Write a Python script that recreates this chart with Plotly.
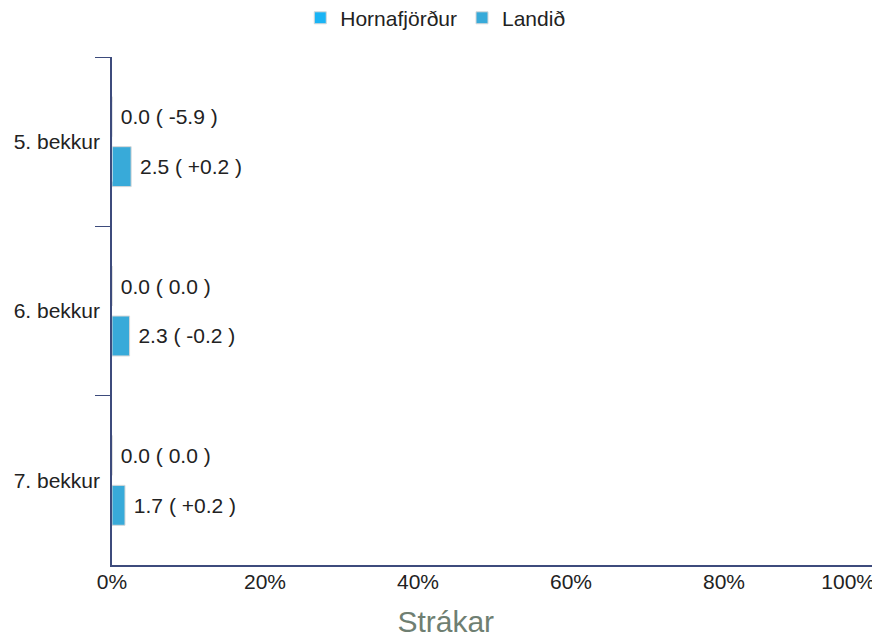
import plotly.graph_objects as go

bekkir = ["5. bekkur", "6. bekkur", "7. bekkur"]
hornafjordur = [0.0, 0.0, 0.0]
hornafjordur_breyting = [-5.9, 0.0, 0.0]
landid = [2.5, 2.3, 1.7]
landid_breyting = [0.2, -0.2, 0.2]
x_ticks = [0, 20, 40, 60, 80, 100]


def merki(gildi, breyting):
    texti = []
    for g, b in zip(gildi, breyting):
        if b > 0:
            bs = f"+{b:.1f}"
        else:
            bs = f"{b:.1f}"
        texti.append(f"\u00a0{g:.1f} ( {bs} )")
    return texti


fig = go.Figure()
fig.add_trace(go.Bar(
    y=bekkir, x=hornafjordur, orientation="h", name="Hornafjörður",
    marker=dict(color="#1ab4f5", line=dict(color="#d8d8d8", width=1)),
    text=merki(hornafjordur, hornafjordur_breyting), textposition="outside",
    textfont=dict(size=21, color="#222222"), cliponaxis=False,
))
fig.add_trace(go.Bar(
    y=bekkir, x=landid, orientation="h", name="Landið",
    marker=dict(color="#38aad9", line=dict(color="#d8d8d8", width=1)),
    text=merki(landid, landid_breyting), textposition="outside",
    textfont=dict(size=21, color="#222222"), cliponaxis=False,
))
# ósýnilegur ferill svo 100% merkið geti legið á xaxis2
fig.add_trace(go.Bar(y=[bekkir[0]], x=[0], orientation="h", xaxis="x2",
                     showlegend=False, hoverinfo="skip", marker_color="rgba(0,0,0,0)"))

axis_color = "#3d4b7c"
fig.update_layout(
    # síðan hefur 8px spássíu, því er myndin minnkuð um 8px
    width=872, height=634,
    barmode="group", bargap=0.41, bargroupgap=0.2,
    plot_bgcolor="white", paper_bgcolor="white",
    font=dict(family="Liberation Sans, Arial, sans-serif", size=21, color="#222222"),
    margin=dict(l=104, r=3, t=49, b=77),
    title=dict(text="Strákar", font=dict(size=30, color="#6f7f72"),
               x=0.502, xref="container", xanchor="center",
               y=0.032, yref="container", yanchor="middle"),
    legend=dict(orientation="h", x=0.49, xanchor="center", xref="container",
                y=0.984, yanchor="middle", yref="container",
                font=dict(size=21), traceorder="normal", itemwidth=30),
    xaxis=dict(
        range=[0, 100], tickvals=x_ticks[:-1], ticktext=[f"{t}%" for t in x_ticks[:-1]],
        showgrid=False, zeroline=False, showline=True, linecolor=axis_color, linewidth=1.5,
        ticks="", tickfont=dict(size=21), automargin=False, ticklabelstandoff=-3,
    ),
    xaxis2=dict(
        overlaying="x", side="bottom", range=[0, 100], tickvals=x_ticks[-1:],
        ticktext=[f"{x_ticks[-1]}%"], ticklabelposition="outside left",
        showgrid=False, zeroline=False, showline=False, ticks="",
        tickfont=dict(size=21), automargin=False, ticklabelstandoff=2, ticklabelshift=-2,
    ),
    yaxis=dict(
        autorange="reversed", showgrid=False, zeroline=False, showline=True,
        linecolor=axis_color, linewidth=1.5, ticks="outside", tickson="boundaries",
        ticklen=15, tickcolor=axis_color, tickfont=dict(size=21), automargin=False,
        ticklabelstandoff=6,
    ),
)

fig.write_html("out.html")
